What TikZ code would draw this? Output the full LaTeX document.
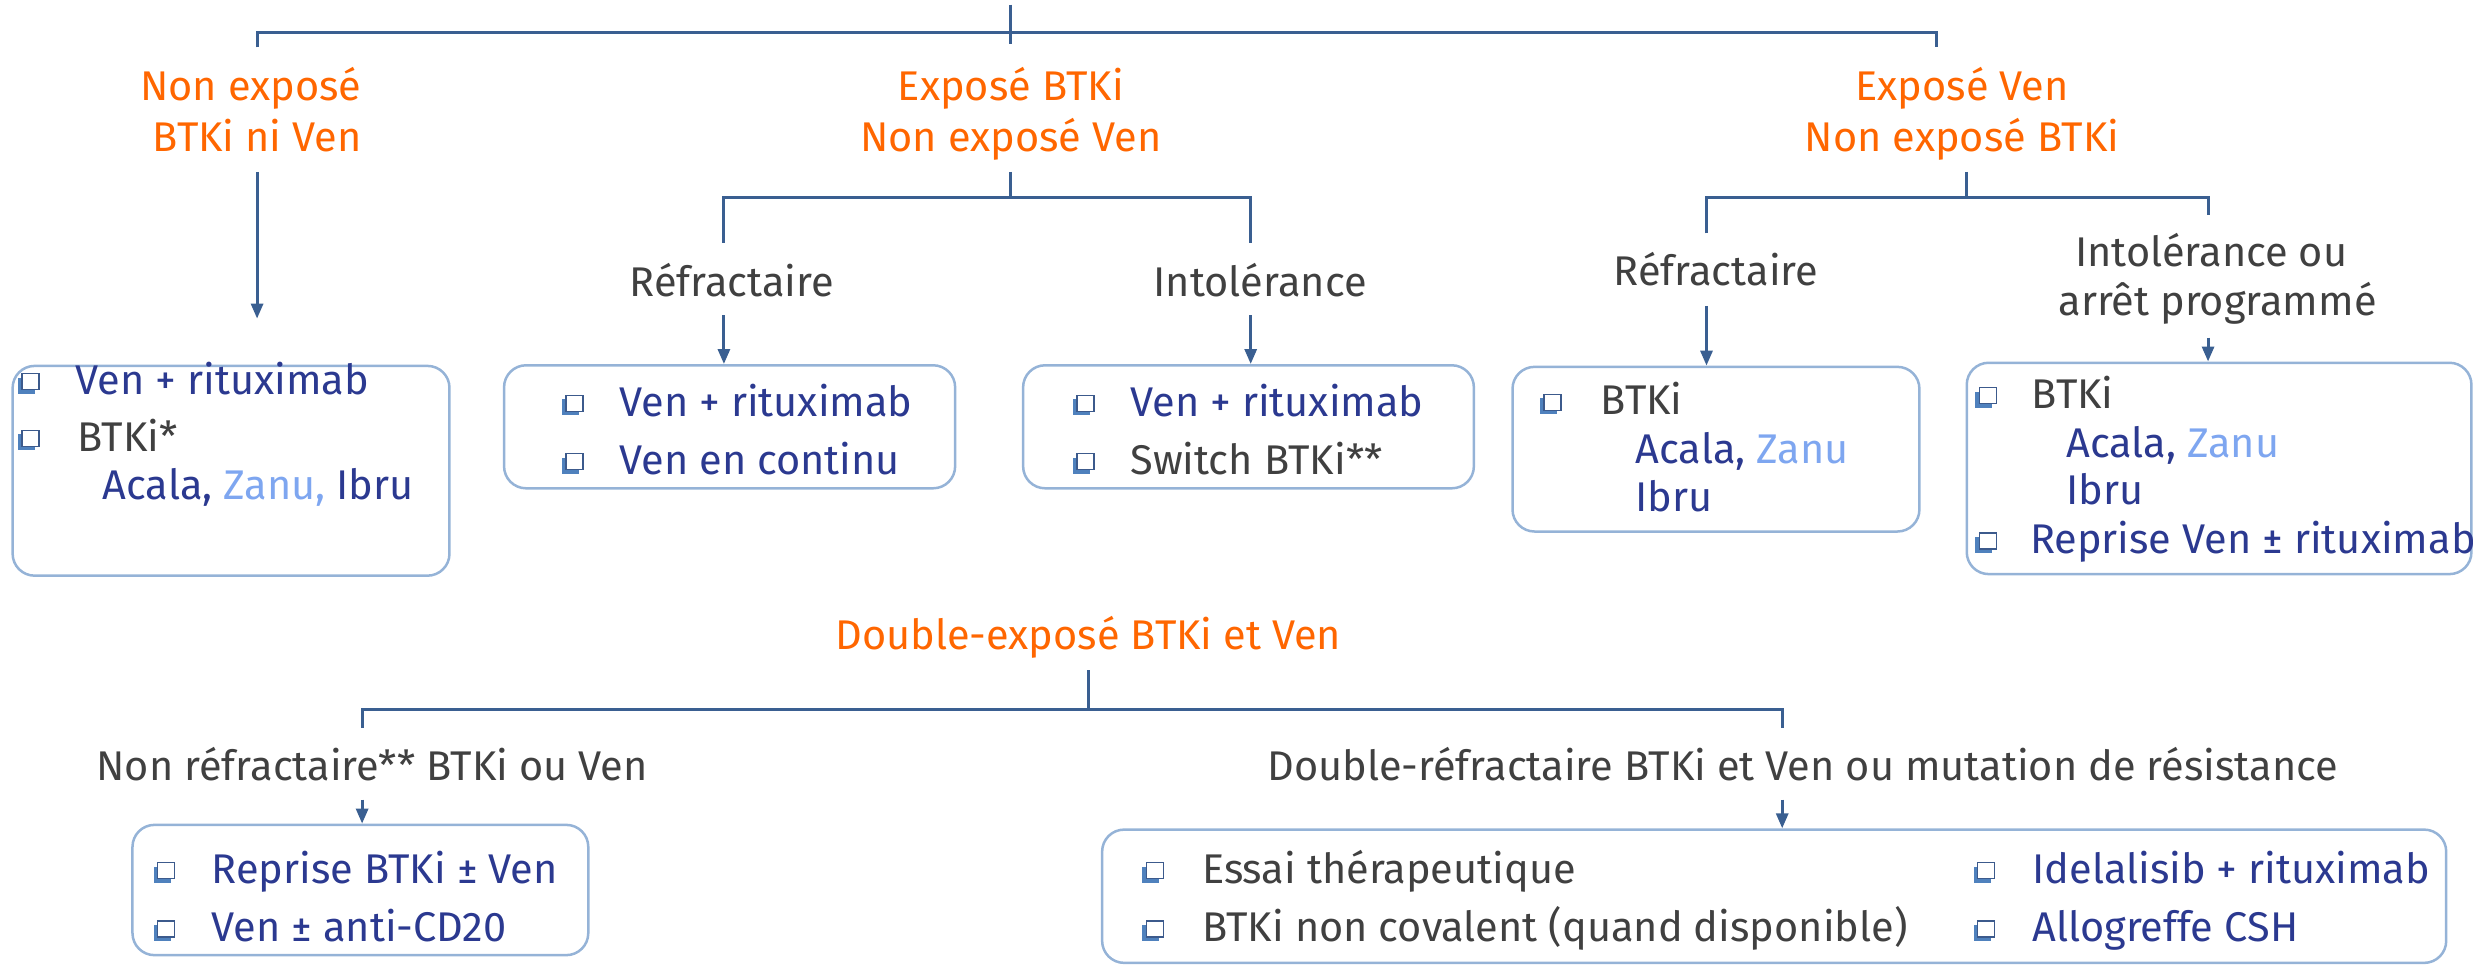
\documentclass[tikz,border=0pt]{standalone}
\usepackage{fontspec}
\setmainfont{Fira Sans}
\usetikzlibrary{arrows.meta,fit,shadows}
\definecolor{orng}{RGB}{255,102,0}
\definecolor{navy}{RGB}{43,57,144}
\definecolor{greyt}{RGB}{64,64,64}
\definecolor{zanu}{RGB}{126,166,240}
\definecolor{lnblue}{RGB}{58,95,145}
\definecolor{boxblue}{RGB}{149,179,215}
\definecolor{bulblue}{RGB}{79,129,189}
\definecolor{buledge}{RGB}{60,90,140}
\tikzset{
  txt/.style={inner sep=0pt, font=\fontsize{41.5}{50}\selectfont},
  otxt/.style={txt, text=orng, anchor=base},
  gtxt/.style={txt, text=greyt, anchor=base},
  itm/.style={txt, text=navy, anchor=base west},
  gitm/.style={txt, text=greyt, anchor=base west},
  bul/.style={anchor=south west, xshift=4pt, yshift=4pt, inner sep=0pt,
    minimum width=17pt, minimum height=16pt, draw=buledge, line width=1.2pt, fill=white,
    general shadow={shadow xshift=-4pt, shadow yshift=-4pt, fill=bulblue}},
  boxst/.style={draw=boxblue, line width=2.5pt, rounded corners=22pt, inner sep=0pt},
  ln/.style={draw=lnblue, line width=3pt},
  arr/.style={ln, -{Triangle[length=15pt,width=12pt]}}
}
\begin{document}
\begin{tikzpicture}[x=1.577pt, y=-1.577pt]
\useasboundingbox (0,0) rectangle (1568,612);
% ---------- top bracket
\coordinate (t0) at (641,3);
\coordinate (t1) at (641,28);
\coordinate (th) at (641,20.7);
\coordinate (tl) at (163,30);
\coordinate (tr) at (1228,30);
\draw[ln] (t0) -- (t1);
\draw[ln] (tl) |- (th) -| (tr);
% ---------- level 1 labels
\node[otxt] (n1a) at (159,63.6) {Non exposé};
\node[otxt] (n1b) at (163,96) {BTKi ni Ven};
\node[otxt] (n2a) at (641,63.6) {Exposé BTKi};
\node[otxt] (n2b) at (641,96) {Non exposé Ven};
\node[otxt] (n3a) at (1244,63.6) {Exposé Ven};
\node[otxt] (n3b) at (1244,96) {Non exposé BTKi};
% ---------- boxes
\node[boxst, fit={(8,232) (285,365)}] (b1) {};
\node[boxst, fit={(319.6,231.6) (605.6,309.6)}] (b2) {};
\node[boxst, fit={(648.7,231.6) (934.5,309.6)}] (b3) {};
\node[boxst, fit={(959,232.6) (1217,337)}] (b4) {};
\node[boxst, fit={(1247,230) (1567,364)}] (b5) {};
\node[boxst, fit={(84,523) (373,605.6)}] (b6) {};
\node[boxst, fit={(698.8,526) (1551,610.5)}] (b7) {};
% ---------- arrow from first label
\coordinate (a1s) at (163,109);
\coordinate (a1e) at (163,202);
\draw[arr] (a1s) -- (a1e);
% ---------- middle bracket
\coordinate (m0) at (641,109);
\coordinate (mh) at (641,125);
\coordinate (ml) at (459,154);
\coordinate (mr) at (793,154);
\draw[ln] (m0) -- (mh);
\draw[ln] (ml) |- (mh) -| (mr);
\node[gtxt] (r2) at (464,188) {Réfractaire};
\node[gtxt] (i2) at (799,188) {Intolérance};
\coordinate (a2s) at (459,200);
\coordinate (a3s) at (793,200);
\draw[arr] (a2s) -- (a2s |- b2.north);
\draw[arr] (a3s) -- (a3s |- b3.north);
% ---------- right bracket
\coordinate (q0) at (1247,109);
\coordinate (qh) at (1247,125);
\coordinate (ql) at (1082,148);
\coordinate (qr) at (1400,136);
\draw[ln] (q0) -- (qh);
\draw[ln] (ql) |- (qh) -| (qr);
\node[gtxt] (r4) at (1088,181) {Réfractaire};
\node[gtxt] (i5a) at (1402,169) {Intolérance ou};
\node[gtxt] (i5b) at (1406,200) {arrêt programmé};
\coordinate (a4s) at (1082,194);
\coordinate (a5s) at (1400,214);
\draw[arr] (a4s) -- (a4s |- b4.north);
\draw[arr] (a5s) -- (a5s |- b5.north);
% ---------- box 1 items
\node[bul] (p11) at (11,250) {};
\node[itm] (x11) at (48,250) {Ven + rituximab};
\node[bul] (p12) at (11,286) {};
\node[gitm] (x12) at (49,286) {BTKi*};
\node[itm] (x13) at (65,317) {Acala, \textcolor{zanu}{Zanu,} Ibru};
% ---------- box 2 items
\node[bul] (p21) at (356,263.8) {};
\node[itm] (x21) at (392.6,263.8) {Ven + rituximab};
\node[bul] (p22) at (356,300.6) {};
\node[itm] (x22) at (392.6,300.6) {Ven en continu};
% ---------- box 3 items
\node[bul] (p31) at (680,263.8) {};
\node[itm] (x31) at (716.6,263.8) {Ven + rituximab};
\node[bul] (p32) at (680,300.6) {};
\node[gitm] (x32) at (716.6,300.6) {Switch BTKi**};
% ---------- box 4 items
\node[bul] (p41) at (976,263) {};
\node[gitm] (x41) at (1014.7,263) {BTKi};
\node[itm] (x42) at (1037,293.7) {Acala, \textcolor{zanu}{Zanu}};
\node[itm] (x43) at (1037,324) {Ibru};
% ---------- box 5 items
\node[bul] (p51) at (1252,259) {};
\node[gitm] (x51) at (1288,259) {BTKi};
\node[itm] (x52) at (1310,290) {Acala, \textcolor{zanu}{Zanu}};
\node[itm] (x53) at (1310,320) {Ibru};
\node[bul] (p54) at (1252,351) {};
\node[itm] (x54) at (1287,351) {Reprise Ven ± rituximab};
% ---------- double exposed
\node[otxt] (dx) at (690,412) {Double-exposé BTKi et Ven};
\coordinate (d0) at (690,425);
\coordinate (dh) at (690,450);
\coordinate (dl) at (229.6,461.5);
\coordinate (dr) at (1130,461.5);
\draw[ln] (d0) -- (dh);
\draw[ln] (dl) |- (dh) -| (dr);
\node[gtxt] (nr) at (236,494.6) {Non réfractaire** BTKi ou Ven};
\node[gtxt] (dr2) at (1143,494.6) {Double-réfractaire BTKi et Ven ou mutation de résistance};
\coordinate (a6s) at (229.6,507);
\coordinate (a7s) at (1130,507);
\draw[arr] (a6s) -- (a6s |- b6.north);
\draw[arr] (a7s) -- (a7s |- b7.north);
% ---------- box 6 items
\node[bul] (p61) at (97,560) {};
\node[itm] (x61) at (134,560) {Reprise BTKi ± Ven};
\node[bul] (p62) at (97,597) {};
\node[itm] (x62) at (134,597) {Ven ± anti-CD20};
% ---------- box 7 items
\node[bul] (p71) at (724,560) {};
\node[gitm] (x71) at (762,560) {Essai thérapeutique};
\node[bul] (p72) at (724,597) {};
\node[gitm] (x72) at (762,597) {BTKi non covalent (quand disponible)};
\node[bul] (p73) at (1251,560) {};
\node[itm] (x73) at (1288.5,560) {Idelalisib + rituximab};
\node[bul] (p74) at (1251,597) {};
\node[itm] (x74) at (1288.5,597) {Allogreffe CSH};
\end{tikzpicture}
\end{document}
